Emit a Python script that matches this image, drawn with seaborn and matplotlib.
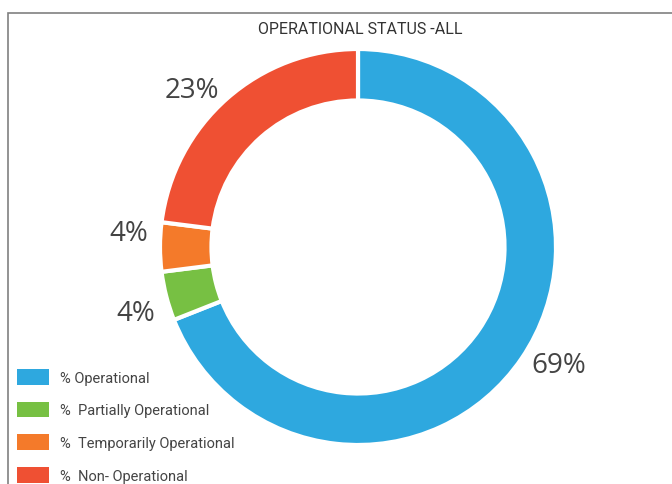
import matplotlib
matplotlib.use("Agg")
import matplotlib.pyplot as plt
from matplotlib.patches import Rectangle, Patch
import seaborn as sns

# data
status = ["% Operational", "%  Partially Operational",
          "%  Temporarily Operational", "%  Non- Operational"]
share = [69, 4, 4, 23]
pct_labels = ["69%", "4%", "4%", "23%"]
colors = ["#2EA8DF", "#77C043", "#F47A2A", "#EF5033"]

sns.set_theme(style="white")
plt.rcParams["font.family"] = ["Roboto", "DejaVu Sans"]
palette = sns.color_palette(colors)

fig = plt.figure(figsize=(6.72, 4.85), dpi=100)

# donut: centre ~ (358, 248) px, outer radius ~198 px
W, H = 672, 485
R = 198
lim = 1.3
half = lim * R
cx, cy = 358, H - 248
ax = fig.add_axes([(cx - half) / W, (cy - half) / H, 2 * half / W, 2 * half / H])

wedges, texts = ax.pie(share, labels=pct_labels, colors=palette,
                       startangle=90, counterclock=False, radius=1,
                       labeldistance=1.06,
                       wedgeprops=dict(width=0.26, edgecolor="white", linewidth=3),
                       textprops=dict(fontsize=20, color="#444444", family=["Open Sans", "DejaVu Sans"]))
# spread the two small labels apart, like the original does
x, y = texts[1].get_position()
texts[1].set_position((x, y - 0.07))
x, y = texts[2].get_position()
texts[2].set_position((x, y + 0.07))
ax.set_xlim(-lim, lim)
ax.set_ylim(-lim, lim)
ax.axis("off")

fig.text(360 / W, 1 - 30 / H, "OPERATIONAL STATUS -ALL", ha="center", va="center",
         fontsize=11.5, color="#333333")

# frame around the chart
fig.add_artist(Rectangle((8 / W, -0.1), 1.2, 1 - 14 / H + 0.1, transform=fig.transFigure,
                         fill=False, edgecolor="#808080", linewidth=1.2))

handles = [Patch(facecolor=c, edgecolor="none") for c in palette]
leg = fig.legend(handles, status, loc="upper left", bbox_to_anchor=(11 / W, 1 - 364 / H),
                 frameon=False, fontsize=10.5, handlelength=2.2, handleheight=1.3,
                 handletextpad=0.75, labelspacing=1.15, borderaxespad=0)
for t in leg.get_texts():
    t.set_color("#444444")

fig.savefig("out.png", dpi=100)
